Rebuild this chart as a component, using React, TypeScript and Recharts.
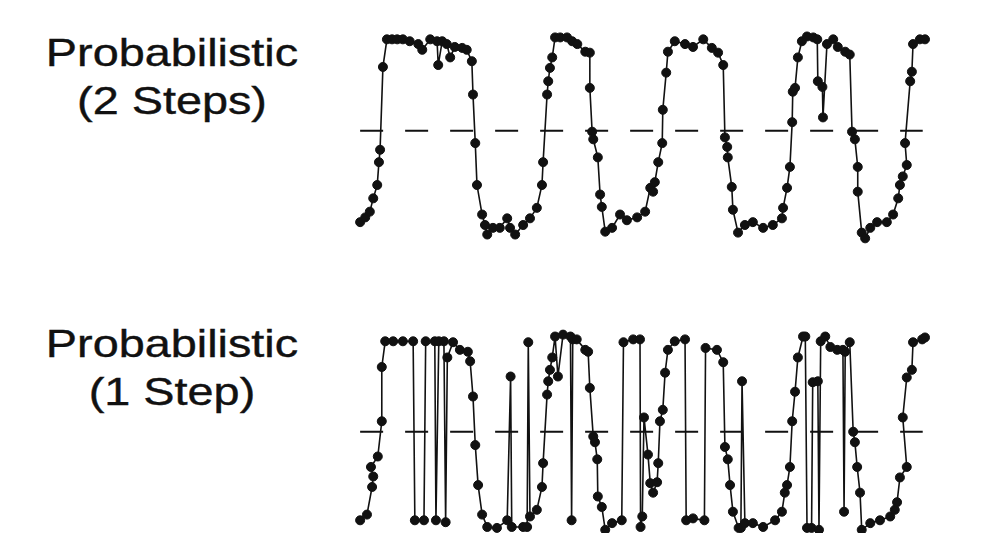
import { LineChart, Line, XAxis, YAxis, ReferenceLine } from 'recharts'

// time (0-100) and normalised response
const twoStepTime = [
  0.9, 1.8, 2.6, 3.2, 3.9, 4.2, 4.4, 4.9, 5.6, 6.5, 7.4, 8.4, 9.6, 11.1, 11.8, 13.2, 14.4, 14.6, 15.3, 16.1,
  16.7, 17.5, 18.8, 19.6, 20.5, 20.7, 21.1, 21.4, 22.3, 22.8, 23.2, 24.2, 25.4, 26.7, 27.2, 28.1, 29.5, 30.7,
  31.9, 32.8, 33.0, 33.7, 33.9, 34.2, 34.6, 35.1, 36.0, 37.2, 38.1, 39.0, 40.4, 41.2, 41.2, 41.6, 41.8, 42.6,
  43.0, 43.3, 43.9, 45.1, 46.5, 47.7, 49.5, 50.9, 51.8, 52.3, 52.6, 53.2, 53.9, 54.0, 54.6, 54.9, 56.1, 57.9,
  59.3, 61.1, 62.6, 63.7, 64.6, 64.9, 65.3, 65.4, 66.1, 66.3, 67.2, 68.4, 69.8, 71.6, 73.3, 74.9, 75.1, 75.8,
  76.3, 76.7, 76.8, 77.2, 77.7, 78.4, 79.3, 80.4, 81.1, 81.2, 82.0, 82.1, 82.8, 83.9, 84.7, 86.0, 86.8, 87.2,
  87.7, 88.2, 88.2, 88.9, 89.5, 90.4, 91.6, 93.3, 94.4, 95.3, 95.6, 96.1, 96.8, 96.5, 97.4, 97.7, 97.9, 99.1,
  100,
]
const twoStepValue = [
  -0.96, -0.91, -0.85, -0.71, -0.57, -0.33, -0.2, 0.67, 0.96, 0.96, 0.96, 0.96, 0.94, 0.91, 0.85, 0.96, 0.94,
  0.69, 0.94, 0.91, 0.77, 0.88, 0.87, 0.85, 0.73, 0.38, -0.13, -0.57, -0.88, -0.99, -1.09, -1.02, -1.02, -0.92,
  -1.02, -1.09, -0.99, -0.92, -0.81, -0.57, -0.33, 0.38, 0.52, 0.66, 0.77, 0.98, 0.98, 0.98, 0.94, 0.91, 0.83,
  0.82, 0.45, -0.01, -0.09, -0.28, -0.67, -0.8, -1.06, -1.02, -0.88, -0.94, -0.91, -0.85, -0.6, -0.64, -0.54,
  -0.33, -0.13, 0.22, 0.61, 0.83, 0.94, 0.91, 0.88, 0.96, 0.87, 0.82, 0.69, -0.07, -0.17, -0.28, -0.59, -0.83,
  -1.07, -0.99, -0.96, -1.02, -0.99, -0.92, -0.81, -0.6, -0.38, 0.09, 0.41, 0.45, 0.77, 0.94, 0.99, 0.98, 0.96,
  0.52, 0.46, 0.14, 0.91, 0.96, 0.88, 0.83, 0.8, -0.01, -0.09, -0.38, -0.64, -1.07, -1.13, -1.02, -0.96, -0.96,
  -0.88, -0.71, -0.57, -0.48, -0.36, -0.13, 0.52, 0.62, 0.91, 0.96, 0.96,
]

const oneStepTime = [
  0.9, 2.1, 3.0, 3.2, 2.8, 4.0, 4.7, 4.7, 5.3, 6.7, 8.4, 10.2, 10.5, 12.1, 12.4, 14.0, 14.2, 14.7, 15.6, 15.9,
  16.2, 17.2, 18.4, 19.8, 20.2, 20.7, 21.1, 21.6, 22.3, 23.2, 24.9, 26.7, 27.3, 27.5, 29.5, 30.2, 30.4, 30.7,
  31.9, 32.8, 33.0, 33.7, 33.9, 34.2, 34.6, 35.1, 35.6, 36.5, 37.8, 38.0, 38.2, 38.9, 40.4, 40.9, 41.2, 41.8,
  42.1, 42.5, 42.6, 43.3, 43.9, 45.1, 46.8, 47.1, 48.8, 50.0, 50.1, 50.4, 50.7, 51.4, 51.8, 52.3, 53.0, 53.2,
  53.5, 54.0, 54.4, 54.9, 56.1, 57.9, 58.1, 59.3, 61.3, 61.5, 63.5, 64.6, 64.9, 65.4, 65.8, 66.3, 67.3, 67.7,
  67.9, 68.4, 69.8, 71.6, 73.7, 74.9, 75.4, 75.8, 76.3, 76.7, 77.2, 77.7, 78.6, 79.0, 79.3, 80.1, 80.3, 81.2,
  81.4, 81.7, 82.5, 83.4, 84.6, 85.6, 85.8, 86.0, 86.8, 87.4, 87.7, 88.1, 88.6, 88.9, 90.4, 92.1, 93.9, 94.7,
  95.1, 95.6, 96.8, 96.1, 96.8, 97.7, 97.9, 99.5, 100,
]
const oneStepValue = [
  -0.93, -0.87, -0.58, -0.47, -0.37, -0.26, 0.11, 0.68, 0.95, 0.95, 0.95, 0.95, -0.93, -0.93, 0.95, 0.95, -0.93,
  0.95, 0.95, -0.95, 0.78, 0.94, 0.86, 0.84, 0.74, 0.37, -0.14, -0.56, -0.87, -1.0, -1.01, -0.93, 0.58, -1.0,
  -1.0, -1.0, 0.94, -0.89, -0.82, -0.58, -0.33, 0.39, 0.53, 0.65, 0.78, 1.0, 0.58, 1.02, 1.0, -0.93, 0.97, 0.97,
  0.86, 0.84, 0.46, -0.05, -0.11, -0.29, -0.68, -0.79, -1.03, -0.96, -0.93, 0.94, 0.97, 0.97, -1.0, -0.89, 0.15,
  -0.24, -0.54, -0.64, -0.53, -0.33, 0.11, 0.23, 0.62, 0.86, 0.95, 0.97, -0.93, -0.91, -0.93, 0.88, 0.86, 0.73,
  -0.16, -0.29, -0.56, -0.84, -1.01, -1.01, 0.53, -0.96, -0.96, -1.0, -0.93, -0.84, -0.64, -0.56, -0.37, 0.11,
  0.42, 0.78, 1.0, 1.0, -1.01, -1.01, 0.52, 0.53, -1.03, 0.95, 1.0, 0.89, 0.86, 0.86, -0.84, 0.84, 0.94, 0.0,
  -0.11, -0.37, -0.64, -1.03, -0.96, -0.93, -0.89, -0.82, -0.74, -0.48, -0.37, 0.15, 0.57, 0.65, 0.94, 0.97,
  0.99,
]

const panels = [
  { title: 'Probabilistic', subtitle: '(2 Steps)', time: twoStepTime, value: twoStepValue, top: 0, labelTop: 29 },
  { title: 'Probabilistic', subtitle: '(1 Step)', time: oneStepTime, value: oneStepValue, top: 301, labelTop: 19 },
]

function Panel({ title, subtitle, time, value, top, labelTop }: (typeof panels)[number]) {
  const data = time.map((t, i) => ({ t, v: value[i] }))
  return (
    <div style={{ position: 'absolute', left: 0, top, width: 997, height: 260 }}>
      <div
        style={{
          position: 'absolute',
          left: 22,
          top: labelTop,
          width: 300,
          textAlign: 'center',
          fontFamily: '"Liberation Sans", Arial, sans-serif',
          fontSize: 39,
          lineHeight: '48px',
          color: '#111',
          WebkitTextStroke: '0.4px #111',
          transform: 'scaleX(1.2)',
        }}
      >
        <div>{title}</div>
        <div>{subtitle}</div>
      </div>
      <div style={{ position: 'absolute', left: 340, top: 0 }}>
        <LineChart width={600} height={260} data={data} margin={{ top: 26, right: 15, bottom: 15, left: 15 }}>
          <XAxis dataKey="t" type="number" domain={[0, 100]} hide />
          <YAxis type="number" domain={[-1.2, 1.1]} hide allowDataOverflow />
          <ReferenceLine
            segment={[{ x: 0.9, y: 0 }, { x: 99.6, y: 0 }]}
            stroke="#111"
            strokeWidth={1.8}
            strokeDasharray="23 22"
          />
          <Line
            dataKey="v"
            type="linear"
            stroke="#111"
            strokeWidth={1.6}
            dot={{ r: 4.5, fill: '#111', stroke: '#111', strokeWidth: 1 }}
            isAnimationActive={false}
          />
        </LineChart>
      </div>
    </div>
  )
}

export default function App() {
  return (
    <div
      style={{
        position: 'absolute',
        left: 0,
        top: 0,
        width: 997,
        height: 533,
        overflow: 'hidden',
        background: '#fff',
      }}
    >
      {panels.map((p) => (
        <Panel key={p.subtitle} {...p} />
      ))}
    </div>
  )
}
